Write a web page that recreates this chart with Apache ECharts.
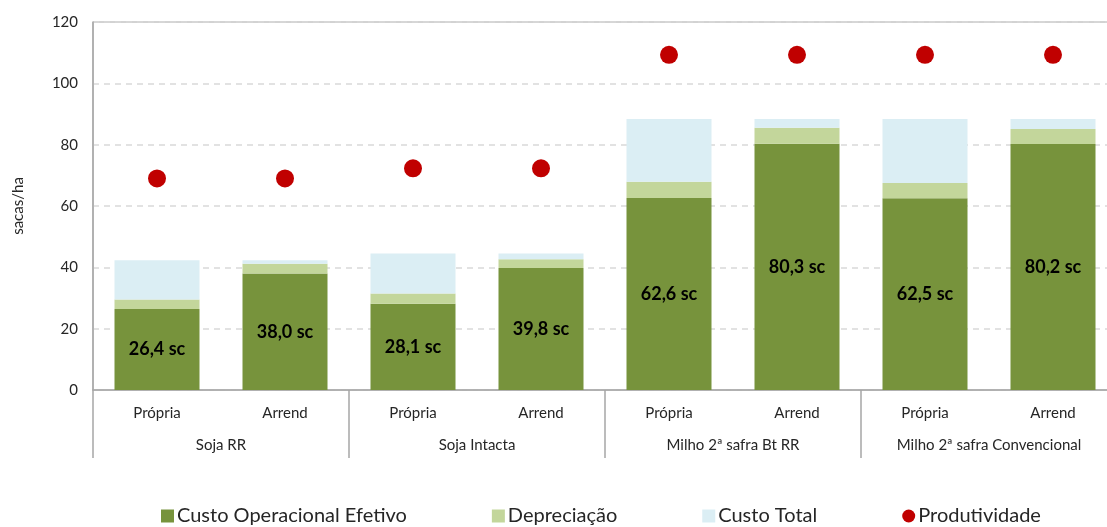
<!DOCTYPE html>
<html>
<head>
<meta charset="utf-8">
<script src="https://cdn.jsdelivr.net/npm/echarts@6/dist/echarts.min.js"></script>
<style>
  html, body { margin: 0; padding: 0; background: #fff; }
  #chart { width: 1107px; height: 527px; }
</style>
</head>
<body>
<div id="chart"></div>
<script>
// categorias
const subLabels = ["Própria", "Arrend", "Própria", "Arrend", "Própria", "Arrend", "Própria", "Arrend"];
const groupLabels = ["Soja RR", "Soja Intacta", "Milho 2ª safra Bt RR", "Milho 2ª safra Convencional"];

// valores (sacas/ha)
const custoOperacional = [26.4, 38.0, 28.1, 39.8, 62.6, 80.3, 62.5, 80.2];
const depreciacao = [3.1, 3.2, 3.4, 2.8, 5.3, 5.2, 5.0, 4.9];
const custoTotalResto = [12.8, 1.1, 13.0, 1.9, 20.5, 2.9, 20.9, 3.3];
const produtividade = [69.0, 69.0, 72.3, 72.3, 109.3, 109.3, 109.3, 109.3];

// eixo y
const yMin = 0;
const yMax = 120;
const yStep = 20;

const font = "Lato, 'Noto Sans', sans-serif";
const gray = "#a6a6a6";

const chart = echarts.init(document.getElementById("chart"));

const option = {
  animation: false,
  textStyle: { fontFamily: font },
  grid: {
    left: 93,
    top: 22,
    width: 1024,
    height: 368,
    outerBoundsMode: "none",
    containLabel: false,
    show: true,
    borderColor: gray,
    borderWidth: 1
  },
  legend: {
    left: 161,
    top: 506,
    padding: 0,
    itemGap: 85,
    itemWidth: 13,
    itemHeight: 13,
    textStyle: { fontSize: 20, color: "#262626", fontFamily: font, padding: [0, 0, 0, -2] },
    data: [
      { name: "Custo Operacional Efetivo", icon: "rect" },
      { name: "Depreciação", icon: "rect" },
      { name: "Custo Total", icon: "rect" },
      { name: "Produtividade", icon: "circle" }
    ]
  },
  xAxis: [
    {
      type: "category",
      data: subLabels,
      position: "bottom",
      axisLine: { lineStyle: { color: gray, width: 1.5 } },
      axisTick: { show: false },
      axisLabel: { color: "#262626", fontSize: 15, margin: 16, interval: 0 }
    },
    {
      type: "category",
      data: groupLabels,
      position: "bottom",
      axisLine: { show: false },
      axisTick: { show: true, length: 68, interval: 0, lineStyle: { color: gray, width: 1.5 } },
      axisLabel: { color: "#262626", fontSize: 15, margin: 48, interval: 0 }
    }
  ],
  yAxis: {
    type: "value",
    min: yMin,
    max: yMax,
    interval: yStep,
    name: "sacas/ha",
    nameLocation: "middle",
    nameGap: 67,
    nameTextStyle: { fontSize: 15, color: "#262626" },
    axisLine: { show: true, lineStyle: { color: gray, width: 1.5 } },
    axisTick: { show: false },
    axisLabel: { color: "#262626", fontSize: 15, margin: 15 },
    splitLine: { lineStyle: { color: "#d9d9d9", type: [6, 5], width: 1.5 } }
  },
  series: [
    {
      name: "Custo Operacional Efetivo",
      type: "bar",
      stack: "custo",
      barWidth: 85,
      data: custoOperacional,
      itemStyle: { color: "#77933c" },
      label: {
        show: true,
        position: "inside",
        color: "#000",
        fontSize: 18,
        fontWeight: "bold",
        formatter: p => p.value.toFixed(1).replace(".", ",") + " sc"
      }
    },
    {
      name: "Depreciação",
      type: "bar",
      stack: "custo",
      data: depreciacao,
      itemStyle: { color: "#c3d69b" }
    },
    {
      name: "Custo Total",
      type: "bar",
      stack: "custo",
      data: custoTotalResto,
      itemStyle: { color: "#dbeef4" }
    },
    {
      name: "Produtividade",
      type: "scatter",
      data: produtividade,
      symbolSize: 18,
      itemStyle: { color: "#c00000", opacity: 1 },
      z: 5
    }
  ]
};

chart.setOption(option);
</script>
</body>
</html>
